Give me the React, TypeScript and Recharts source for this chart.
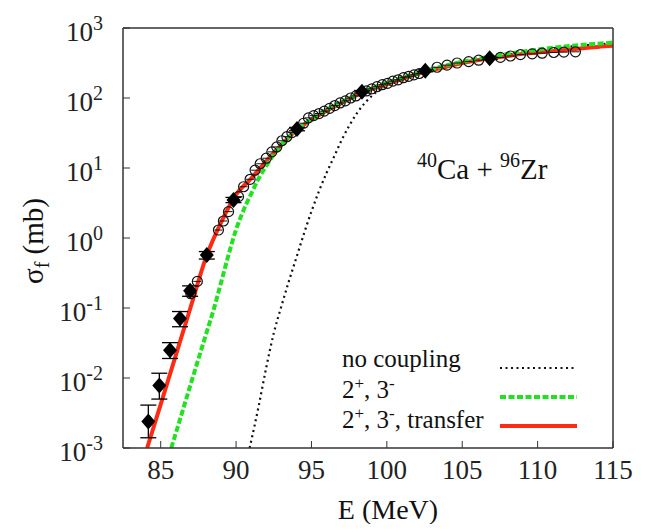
import React from 'react';
import { ComposedChart, Line, Scatter, XAxis, YAxis, ErrorBar } from 'recharts';

const FONT = '"Liberation Serif", "Times New Roman", Times, serif';

// x-axis (E, MeV) and y-axis (sigma_f, mb) ticks
const xTicks = [85, 90, 95, 100, 105, 110, 115];
const yTicks = [0.001, 0.01, 0.1, 1, 10, 100, 1000];

// no coupling (black dotted)
const noCouplingE = [90.9, 91.5, 92, 92.5, 93, 93.5, 94, 94.5, 95, 95.5, 96, 96.5, 97, 97.5, 98, 98.5, 99, 100, 101, 102, 103, 104, 106, 108, 110, 112, 115];
const noCouplingSigma = [0.001, 0.00398, 0.0141, 0.0437, 0.105, 0.24, 0.525, 1.15, 2.4, 4.68, 8.5, 14.5, 25, 40, 60, 83, 107, 151, 190, 224, 257, 288, 355, 417, 479, 537, 603];

// 2+, 3- (green dashed)
const inelasticE = [85.7, 86, 87, 88, 88.5, 89, 89.5, 90, 90.5, 91, 91.5, 92, 92.5, 93, 94, 95, 96, 97, 98, 99, 100, 102, 104, 106, 108, 110, 112, 115];
const inelasticSigma = [0.001, 0.00162, 0.0083, 0.0417, 0.093, 0.229, 0.575, 1.32, 2.51, 4.27, 7.08, 10.7, 15.5, 21.4, 34.7, 50, 68, 87, 112, 138, 166, 224, 295, 363, 427, 490, 550, 617];

// 2+, 3-, transfer (red solid)
const transferE = [84.1, 85, 86, 87, 88, 89, 90, 91, 92, 93, 94, 95, 96, 97, 98, 99, 100, 101, 102, 103, 104, 105, 106, 107, 108, 109, 110, 111, 112, 113, 114, 115];
const transferSigma = [0.001, 0.0042, 0.021, 0.105, 0.525, 1.66, 4.17, 7.08, 12.6, 21.4, 34.7, 49, 66, 85, 110, 135, 158, 186, 219, 251, 282, 316, 347, 372, 398, 427, 447, 468, 490, 513, 537, 556];

// filled diamonds (data set 1)
const diamondE = [84.18, 84.91, 85.62, 86.28, 86.95, 88.06, 89.83, 94.04, 98.35, 102.55, 106.82];
const diamondSigma = [0.0024, 0.0078, 0.025, 0.071, 0.177, 0.57, 3.5, 36, 123, 245, 369];
const diamondErrLow = [0.001, 0.0028, 0.006, 0.017, 0.03, 0.07, 0.3, 2, 5, 8, 12];
const diamondErrHigh = [0.0017, 0.0039, 0.007, 0.018, 0.03, 0.07, 0.3, 2, 5, 8, 12];

// open circles (data set 2)
const circleE = [87.0, 87.43, 88.83, 89.16, 89.5, 90.16, 90.5, 90.93, 91.26, 91.6, 92.0, 92.37, 92.7, 93.04, 93.37, 93.7, 94.48, 94.8, 95.15, 95.5, 95.85, 96.2, 96.55, 96.9, 97.25, 97.6, 97.95, 98.65, 99.0, 99.35, 99.7, 100.05, 100.4, 100.75, 101.1, 101.45, 101.8, 102.15, 103.33, 103.99, 104.66, 105.43, 106.09, 107.53, 108.2, 108.86, 109.64, 110.3, 111.07, 111.74, 112.51];
const circleSigma = [0.16, 0.24, 1.3, 1.75, 2.38, 3.9, 5.4, 6.9, 9.3, 11.5, 13.8, 17, 20, 24.5, 28, 32, 43.6, 52, 56, 60, 65, 71, 78, 85, 91, 100, 107, 126, 135, 145, 155, 162, 174, 182, 195, 204, 214, 224, 275, 295, 316, 331, 347, 380, 398, 417, 427, 437, 447, 452, 457];

const legendLabels = ['no coupling', '2+, 3-', '2+, 3-, transfer'];

const zip = (xs: number[], ys: number[]) => xs.map((x, i) => ({ x, y: ys[i] }));

const noCouplingData = zip(noCouplingE, noCouplingSigma);
const inelasticData = zip(inelasticE, inelasticSigma);
const transferData = zip(transferE, transferSigma);
const diamondData = diamondE.map((x, i) => ({ x, y: diamondSigma[i], err: [diamondErrLow[i], diamondErrHigh[i]] }));
const circleData = zip(circleE, circleSigma);

const RED = '#ff2a12';
const GREEN = '#22e022';
const AXIS = '#333';

const YTick = (props: any) => {
  const { x, y, payload } = props;
  const exp = Math.round(Math.log10(payload.value));
  return (
    <text x={x} y={y + 13} textAnchor="end" fontFamily={FONT} fontSize={27} fill="#222">
      10<tspan dy={-11} fontSize={20}>{exp < 0 ? '-' + -exp : String(exp)}</tspan>
    </text>
  );
};

const Diamond = (props: any) => {
  const { cx, cy } = props;
  if (cx == null || cy == null) return null;
  return <polygon points={`${cx},${cy - 8} ${cx + 7},${cy} ${cx},${cy + 8} ${cx - 7},${cy}`} fill="#000" />;
};

const OpenCircle = (props: any) => {
  const { cx, cy } = props;
  if (cx == null || cy == null) return null;
  return (
    <g>
      <circle cx={cx} cy={cy} r={5} fill="none" stroke="#111" strokeWidth={1.2} />
      <line x1={cx - 4} x2={cx + 4} y1={cy} y2={cy} stroke="#111" strokeWidth={1} />
    </g>
  );
};

const Sup = ({ children }: any) => <tspan dy={-9} fontSize={17}>{children}</tspan>;

const Decorations = () => (
  <g fontFamily={FONT} fill="#111">
    {/* axis titles */}
    <text x={388} y={519} textAnchor="middle" fontSize={28}>E (MeV)</text>
    <text transform="translate(43,241) rotate(-90)" textAnchor="middle" fontSize={29}>
      σ<tspan dy={6} fontSize={20}>f</tspan><tspan dy={-6}> (mb)</tspan>
    </text>
    {/* reaction annotation */}
    <text x={417} y={179} fontSize={29}>
      <tspan dy={-12} fontSize={20}>40</tspan><tspan dy={12}>Ca + </tspan><tspan dy={-12} fontSize={20}>96</tspan><tspan dy={12}>Zr</tspan>
    </text>
    {/* legend */}
    <text x={342} y={367} fontSize={25}>{legendLabels[0]}</text>
    <text x={342} y={398} fontSize={25}>2<Sup>+</Sup><tspan dy={9}>, 3</tspan><Sup>-</Sup></text>
    <text x={342} y={428} fontSize={25}>2<Sup>+</Sup><tspan dy={9}>, 3</tspan><Sup>-</Sup><tspan dy={9}>, transfer</tspan></text>
    <line x1={500} x2={577} y1={368} y2={368} stroke="#111" strokeWidth={2.2} strokeDasharray="2 3.5" />
    <line x1={500} x2={577} y1={397} y2={397} stroke={GREEN} strokeWidth={4} strokeDasharray="6 2.5" />
    <line x1={500} x2={577} y1={426} y2={426} stroke={RED} strokeWidth={4} />
  </g>
);

export default function App() {
  return (
    <div style={{ margin: -8 }}>
      <ComposedChart width={648} height={532} margin={{ top: 27, right: 34, bottom: 0, left: 0 }}>
        <XAxis
          type="number"
          dataKey="x"
          domain={[82.5, 115]}
          ticks={xTicks}
          interval={0}
          allowDataOverflow
          height={84}
          tickSize={-7}
          tickMargin={19}
          stroke={AXIS}
          axisLine={{ stroke: AXIS, strokeWidth: 1.5 }}
          tick={{ fontSize: 27, fontFamily: FONT, fill: '#222' }}
        />
        <XAxis
          xAxisId="top"
          orientation="top"
          type="number"
          domain={[82.5, 115]}
          ticks={xTicks}
          interval={0}
          allowDataOverflow
          height={1}
          tickSize={-7}
          tick={false}
          stroke={AXIS}
          axisLine={{ stroke: AXIS, strokeWidth: 1.5 }}
        />
        <YAxis
          type="number"
          scale="log"
          domain={[0.001, 1000]}
          ticks={yTicks}
          interval={0}
          allowDataOverflow
          width={123}
          tickSize={-7}
          tickMargin={27}
          stroke={AXIS}
          axisLine={{ stroke: AXIS, strokeWidth: 1.5 }}
          tick={<YTick />}
        />
        <YAxis
          yAxisId="right"
          orientation="right"
          type="number"
          scale="log"
          domain={[0.001, 1000]}
          ticks={yTicks}
          interval={0}
          allowDataOverflow
          width={1}
          tickSize={-7}
          tick={false}
          stroke={AXIS}
          axisLine={{ stroke: AXIS, strokeWidth: 1.5 }}
        />
        <Line data={noCouplingData} dataKey="y" type="monotone" stroke="#111" strokeWidth={2.2} strokeDasharray="2 3.5" dot={false} isAnimationActive={false} />
        <Line data={transferData} dataKey="y" type="monotone" stroke={RED} strokeWidth={4} dot={false} isAnimationActive={false} />
        <Line data={inelasticData} dataKey="y" type="monotone" stroke={GREEN} strokeWidth={4} strokeDasharray="6 2.5" dot={false} isAnimationActive={false} />
        <Scatter data={circleData} dataKey="y" shape={<OpenCircle />} isAnimationActive={false} />
        <Scatter data={diamondData} dataKey="y" shape={<Diamond />} isAnimationActive={false}>
          <ErrorBar dataKey="err" direction="y" width={8} stroke="#000" strokeWidth={1.3} />
        </Scatter>
        <Decorations />
      </ComposedChart>
    </div>
  );
}
